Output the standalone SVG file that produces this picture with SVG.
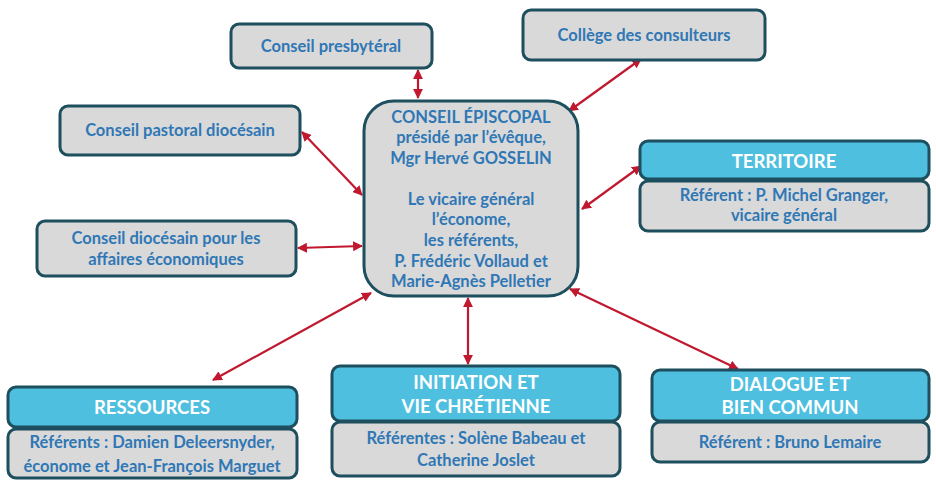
<svg xmlns="http://www.w3.org/2000/svg" width="936" height="480" viewBox="0 0 936 480">
<defs>
<marker id="ah" viewBox="0 0 10 10" refX="9" refY="5" markerWidth="4.5" markerHeight="4.5" orient="auto-start-reverse" markerUnits="strokeWidth">
<path d="M0,0 L10,5 L0,10 z" fill="#c0182f"/>
</marker>
</defs>
<style>
.box{fill:#d9d9d9;stroke:#1d4f5e;stroke-width:3}
.hdr{fill:#4fbfdf;stroke:#1d4f5e;stroke-width:3}
.t{font-family:Lato,"Open Sans","Liberation Sans",sans-serif;font-weight:bold;font-size:16.5px;fill:#2f77b5;text-anchor:middle}
.h{font-family:Lato,"Open Sans","Liberation Sans",sans-serif;font-weight:bold;font-size:18.5px;fill:#ffffff;text-anchor:middle}
.c{stroke:#c0182f;stroke-width:2.2;fill:none;marker-start:url(#ah);marker-end:url(#ah)}
</style>
<rect width="936" height="480" fill="#ffffff"/>
<g id="connectors">
<line class="c" x1="418" y1="70" x2="418" y2="98"/>
<line class="c" x1="641" y1="59" x2="569" y2="111"/>
<line class="c" x1="302" y1="132" x2="362" y2="195"/>
<line class="c" x1="298" y1="248" x2="362" y2="246"/>
<line class="c" x1="641" y1="166" x2="582" y2="209"/>
<line class="c" x1="213" y1="380" x2="371" y2="293"/>
<line class="c" x1="468" y1="298" x2="468" y2="364"/>
<line class="c" x1="570" y1="289" x2="738" y2="369"/>
</g>
<g id="conseil-presbyteral">
<rect class="box" x="231" y="24" width="201" height="44" rx="8"/>
<text class="t" x="331" y="52">Conseil presbytéral</text>
</g>
<g id="college-consulteurs">
<rect class="box" x="523" y="10" width="242" height="50" rx="8"/>
<text class="t" x="644" y="41">Collège des consulteurs</text>
</g>
<g id="conseil-pastoral">
<rect class="box" x="60" y="106" width="240" height="49" rx="8"/>
<text class="t" x="180" y="136">Conseil pastoral diocésain</text>
</g>
<g id="conseil-affaires">
<rect class="box" x="37" y="221" width="259" height="55" rx="8"/>
<text class="t" x="166" y="244">Conseil diocésain pour les</text>
<text class="t" x="166" y="265">affaires économiques</text>
</g>
<g id="conseil-episcopal">
<rect class="box" x="364" y="101" width="214" height="195" rx="30"/>
<text class="t" x="471" y="123">CONSEIL ÉPISCOPAL</text>
<text class="t" x="471" y="143">présidé par l’évêque,</text>
<text class="t" x="471" y="164">Mgr Hervé GOSSELIN</text>
<text class="t" x="471" y="205">Le vicaire général</text>
<text class="t" x="471" y="225">l’économe,</text>
<text class="t" x="471" y="246">les référents,</text>
<text class="t" x="471" y="267">P. Frédéric Vollaud et</text>
<text class="t" x="471" y="287">Marie-Agnès Pelletier</text>
</g>
<g id="territoire">
<rect class="box" x="640" y="181" width="289" height="50" rx="8"/>
<rect class="hdr" x="640" y="141" width="289" height="38" rx="8"/>
<text class="h" x="784" y="168">TERRITOIRE</text>
<text class="t" x="784" y="201">Référent : P. Michel Granger,</text>
<text class="t" x="784" y="221">vicaire général</text>
</g>
<g id="ressources">
<rect class="box" x="8" y="429" width="289" height="49" rx="8"/>
<rect class="hdr" x="8" y="387" width="289" height="40" rx="8"/>
<text class="h" x="152" y="414">RESSOURCES</text>
<text class="t" x="152" y="448">Référents : Damien Deleersnyder,</text>
<text class="t" x="152" y="472">économe et Jean-François Marguet</text>
</g>
<g id="initiation">
<rect class="box" x="332" y="422" width="288" height="54" rx="8"/>
<rect class="hdr" x="332" y="366" width="288" height="55" rx="8"/>
<text class="h" x="476" y="389">INITIATION ET</text>
<text class="h" x="476" y="413">VIE CHRÉTIENNE</text>
<text class="t" x="476" y="444">Référentes : Solène Babeau et</text>
<text class="t" x="476" y="466">Catherine Joslet</text>
</g>
<g id="dialogue">
<rect class="box" x="652" y="422" width="277" height="40" rx="8"/>
<rect class="hdr" x="652" y="370" width="277" height="51" rx="8"/>
<text class="h" x="790" y="391">DIALOGUE ET</text>
<text class="h" x="790" y="414">BIEN COMMUN</text>
<text class="t" x="790" y="448">Référent : Bruno Lemaire</text>
</g>
</svg>
